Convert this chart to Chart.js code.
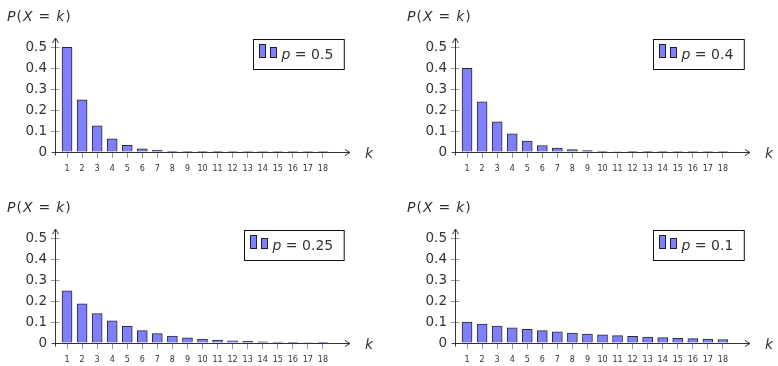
<!DOCTYPE html>
<html lang="en">
<head>
<meta charset="UTF-8">
<title>Geometric distribution P(X = k)</title>
<script src="https://cdn.jsdelivr.net/npm/chart.js"></script>
<style>
  body { margin: 0; background: #fff; }
  #wrap { position: relative; width: 778px; height: 366px; }
  .panel { position: absolute; }
</style>
</head>
<body>
<div id="wrap">
  <div class="panel" style="left:0;top:0;width:400px;height:175px"><canvas id="c1"></canvas></div>
  <div class="panel" style="left:400px;top:0;width:378px;height:175px"><canvas id="c2"></canvas></div>
  <div class="panel" style="left:0;top:191px;width:400px;height:175px"><canvas id="c3"></canvas></div>
  <div class="panel" style="left:400px;top:191px;width:378px;height:175px"><canvas id="c4"></canvas></div>
</div>
<script>
const kLabels = [1, 2, 3, 4, 5, 6, 7, 8, 9, 10, 11, 12, 13, 14, 15, 16, 17, 18];
const yTicks = [0, 0.1, 0.2, 0.3, 0.4, 0.5];

const p05 = [0.5, 0.25, 0.125, 0.0625, 0.0313, 0.0156, 0.0078, 0.0039, 0.002, 0.001, 0.0005, 0.0002, 0.0001, 0.00006, 0.00003, 0.000015, 0.000008, 0.000004];
const p04 = [0.4, 0.24, 0.144, 0.0864, 0.0518, 0.0311, 0.0187, 0.0112, 0.0067, 0.004, 0.0024, 0.0015, 0.0009, 0.0005, 0.0003, 0.0002, 0.0001, 0.0001];
const p025 = [0.25, 0.1875, 0.1406, 0.1055, 0.0791, 0.0593, 0.0445, 0.0334, 0.025, 0.0188, 0.0141, 0.0106, 0.0079, 0.0059, 0.0045, 0.0033, 0.0025, 0.0019];
const p01 = [0.1, 0.09, 0.081, 0.0729, 0.0656, 0.059, 0.0531, 0.0478, 0.043, 0.0387, 0.0349, 0.0314, 0.0282, 0.0254, 0.0229, 0.0206, 0.0185, 0.0167];

const panels = [
  { id: 'c1', p: '0.5', values: p05, padRight: 50 },
  { id: 'c2', p: '0.4', values: p04, padRight: 28 },
  { id: 'c3', p: '0.25', values: p025, padRight: 50 },
  { id: 'c4', p: '0.1', values: p01, padRight: 28 }
];

const FONT = "'DejaVu Sans', sans-serif";
const INK = '#333';
const BAR_FILL = '#8080ff';
Chart.defaults.font.family = FONT;
Chart.defaults.color = INK;

// draw pieces of text in turn, [text, italic]
function drawRun(ctx, parts, x, y, size, gap) {
  parts.forEach(([t, it], i) => {
    ctx.font = (it ? 'italic ' : '') + size + 'px ' + FONT;
    ctx.fillText(t, x, y);
    x += ctx.measureText(t).width + (gap ? gap[i] : 0);
  });
  return x;
}
function runWidth(ctx, parts, size) {
  let w = 0;
  parts.forEach(([t, it]) => {
    ctx.font = (it ? 'italic ' : '') + size + 'px ' + FONT;
    w += ctx.measureText(t).width;
  });
  return w;
}

const axesPlugin = {
  id: 'axes',
  afterDraw(chart) {
    const { ctx, chartArea: a } = chart;
    const ys = chart.scales.y;
    const y0 = Math.round(ys.getPixelForValue(0)) + 0.5;
    const x0 = Math.round(a.left) + 0.5;
    ctx.save();
    // right half of the y ticks (they cross the axis)
    ctx.strokeStyle = '#999';
    ctx.lineWidth = 1;
    ys.ticks.forEach(t => {
      const py = Math.round(ys.getPixelForValue(t.value)) + 0.5;
      ctx.beginPath();
      ctx.moveTo(x0, py);
      ctx.lineTo(x0 + 4, py);
      ctx.stroke();
    });
    ctx.strokeStyle = INK;
    // x axis with arrow
    ctx.beginPath();
    ctx.moveTo(x0 - 3, y0);
    ctx.lineTo(a.right, y0);
    ctx.stroke();
    ctx.beginPath();
    ctx.moveTo(a.right - 5, y0 - 3);
    ctx.lineTo(a.right, y0);
    ctx.lineTo(a.right - 5, y0 + 3);
    ctx.stroke();
    // y axis with arrow
    ctx.beginPath();
    ctx.moveTo(x0, y0 + 3);
    ctx.lineTo(x0, a.top);
    ctx.stroke();
    ctx.beginPath();
    ctx.moveTo(x0 - 3, a.top + 5);
    ctx.lineTo(x0, a.top);
    ctx.lineTo(x0 + 3, a.top + 5);
    ctx.stroke();

    ctx.fillStyle = INK;
    ctx.textBaseline = 'alphabetic';
    ctx.textAlign = 'left';
    // axis names
    drawRun(ctx, [['P', 1], ['(', 0], ['X', 1], ['=', 0], ['k', 1], [')', 0]], 7, 21, 14, [1, 1, 6, 6, 1, 0]);
    drawRun(ctx, [['k', 1]], a.right + 15, y0 + 5, 14);

    // legend box
    const ds = chart.data.datasets[0];
    const parts = [['p', 1], [' = ' + ds.label, 0]];
    const tw = runWidth(ctx, parts, 14);
    const w = 6 + 6 + 5 + 6 + 5 + tw + 11;
    const bx = Math.round(a.right - 6 - w) + 0.5, by = Math.round(a.top) + 1.5, bh = 30;
    ctx.fillStyle = '#fff';
    ctx.fillRect(bx, by, w, bh);
    ctx.strokeStyle = '#111';
    ctx.strokeRect(bx, by, w, bh);
    ctx.fillStyle = ds.backgroundColor;
    ctx.strokeStyle = '#222';
    ctx.fillRect(bx + 6, by + 5, 6, 13);
    ctx.strokeRect(bx + 6, by + 5, 6, 13);
    ctx.fillRect(bx + 17, by + 8, 6, 10);
    ctx.strokeRect(bx + 17, by + 8, 6, 10);
    ctx.fillStyle = INK;
    drawRun(ctx, parts, bx + 28, by + 19, 14);
    ctx.restore();
  }
};

panels.forEach(pn => {
  new Chart(document.getElementById(pn.id), {
    type: 'bar',
    data: {
      datasets: [{
        label: pn.p,
        data: kLabels.map((k, i) => ({ x: k, y: pn.values[i] })),
        backgroundColor: BAR_FILL,
        borderColor: '#2a2a2a',
        borderWidth: 1,
        borderSkipped: 'start',
        barThickness: 10
      }]
    },
    options: {
      responsive: true,
      maintainAspectRatio: false,
      animation: false,
      layout: { padding: { left: 15, right: pn.padRight, top: 38, bottom: 1 } },
      plugins: { legend: { display: false }, tooltip: { enabled: false } },
      scales: {
        x: {
          type: 'linear',
          min: 0.2,
          max: 19.8,
          offset: false,
          afterBuildTicks: s => { s.ticks = kLabels.map(v => ({ value: v })); },
          afterFit: s => { s.height = 22; },
          grid: { drawOnChartArea: false, tickLength: 6, color: '#999', offset: false },
          border: { display: false },
          ticks: { font: { size: 8 }, color: INK, padding: 6, autoSkip: false, maxRotation: 0 }
        },
        y: {
          min: 0,
          max: 0.545,
          afterBuildTicks: s => { s.ticks = yTicks.map(v => ({ value: v })); },
          afterFit: s => { s.width = 40; },
          grid: { drawOnChartArea: false, tickLength: 4, color: '#999' },
          border: { display: false },
          ticks: { font: { size: 13.5 }, color: INK, padding: 4, callback: v => v === 0 ? '0' : v.toFixed(1) }
        }
      }
    },
    plugins: [axesPlugin]
  });
});
</script>
</body>
</html>
